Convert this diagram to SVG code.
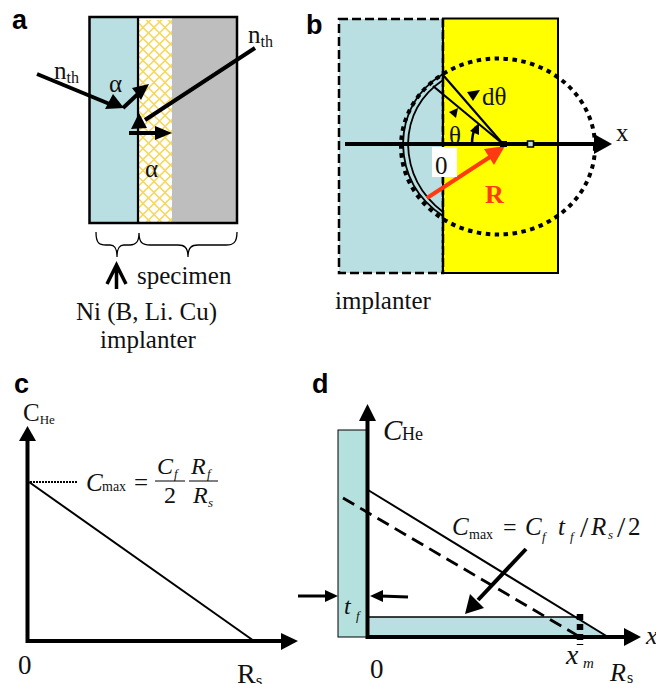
<svg xmlns="http://www.w3.org/2000/svg" width="656" height="684" viewBox="0 0 656 684">
<style>
text{font-family:"Liberation Serif","Times New Roman",serif;fill:#111}
.l{font-family:"Liberation Sans",Arial,sans-serif;font-weight:700;font-size:27px;fill:#000}
.t{font-size:25px}
.s{font-size:16px}
.i{font-style:italic}
.k{stroke:#000;fill:none;stroke-width:4}
.m{stroke:#000;fill:none;stroke-width:2.2}
.h{fill:#000}
</style>
<defs>
<pattern id="hatch" width="11" height="11" patternUnits="userSpaceOnUse">
<rect width="11" height="11" fill="#fff"/>
<path d="M0 5.5 5.5 0 11 5.5 5.5 11Z" fill="none" stroke="#f6d860" stroke-width="1.6"/>
</pattern>
</defs>
<g id="panel-a">
<text class="l" x="12" y="29">a</text>
<rect x="90" y="17" width="49" height="206" fill="#b9dfe2"/>
<rect x="139" y="20" width="33" height="203" fill="url(#hatch)"/>
<rect x="172" y="17" width="65" height="206" fill="#bebebe"/>
<rect x="89.500" y="17" width="147.500" height="206" fill="none" stroke="#000" stroke-width="2.500"/>
<line x1="138" y1="17" x2="138" y2="223" class="m"/>
<text class="t" x="54" y="79">n<tspan font-size="16" dy="4">th</tspan></text>
<text class="t" x="248" y="43">n<tspan font-size="16" dy="4">th</tspan></text>
<text class="t" x="109" y="92" font-size="27">α</text>
<text class="t" x="145" y="177" font-size="27">α</text>
<g id="a-connectors">
<line x1="37" y1="74" x2="112" y2="105" class="k"/>
<path class="h" d="M124 108 105 109 113 94Z"/>
<line x1="123" y1="108" x2="140" y2="92" class="k"/>
<path class="h" d="M149 84 141 100 132 88Z"/>
<line x1="255" y1="48" x2="145" y2="120" class="k"/>
<path class="h" d="M131 129 147 128 139 113Z"/>
<line x1="129" y1="133" x2="158" y2="133" class="k"/>
<path class="h" d="M172 133 155 126 155 140Z"/>
</g>
<path d="M96 232C96 243 99 245 106 245H110C114 245 117 247 117 257C117 247 120 245 124 245H130C135 245 139 243 139 233C139 243 143 245 150 245H178C184 245 188 247 188 257C188 247 192 245 198 245H226C233 245 237 243 237 232" fill="none" stroke="#000" stroke-width="1.300"/>
<path d="M116.500 289V265M107 284 116.500 265 126 284" fill="none" stroke="#000" stroke-width="3.500"/>
<text class="t" x="137" y="284">specimen</text>
<text class="t" x="76" y="320">Ni (B, Li. Cu)</text>
<text class="t" x="100" y="348">implanter</text>
</g>
<g id="panel-b">
<text class="l" x="306" y="34">b</text>
<rect x="339" y="19" width="104" height="254" fill="#b9dfe2" stroke="#000" stroke-width="2.500" stroke-dasharray="9 4"/>
<rect x="443" y="18.500" width="115" height="254.500" fill="#ff0" stroke="#000" stroke-width="2"/>
<line x1="443" y1="18" x2="443" y2="273" stroke="#000" stroke-width="2.500" stroke-dasharray="9 3"/>
<ellipse cx="498" cy="146.500" rx="97" ry="88" fill="none" stroke="#000" stroke-width="4" stroke-dasharray="4.500 4.500"/>
<path d="M443 74Q404 98 403 144Q404 190 443 216" fill="none" stroke="#000" stroke-width="1.800"/>
<path d="M443 80Q409 103 408 144Q409 186 443 212" fill="none" stroke="#000" stroke-width="1.800"/>
<g id="b-connectors">
<line x1="345" y1="144" x2="597" y2="144" class="k"/>
<path class="h" d="M612 144 594 134 594 154Z"/>
<line x1="443" y1="75" x2="503" y2="144" stroke="#000" stroke-width="2.200"/>
<line x1="433" y1="86" x2="503" y2="144" stroke="#000" stroke-width="2.200"/>
<path class="h" d="M467 92 480 90 473 101Z"/>
<path class="h" d="M449 112 458 108 456 118Z"/>
<path d="M472 144Q472 133 476 127" fill="none" stroke="#000" stroke-width="2.500"/>
<path class="h" d="M479 123 479 135 470 131Z"/>
<line x1="427" y1="198" x2="493" y2="155" stroke="#ff3a10" stroke-width="4"/>
<path class="h" style="fill:#ff3a10" d="M505 146 484 149 494 165Z"/>
</g>
<rect x="500" y="141" width="7" height="6" fill="#000"/>
<rect x="527.500" y="141" width="6" height="6" fill="#b9dfe2" stroke="#000" stroke-width="1.500"/>
<rect x="432" y="147" width="25" height="30" fill="#fff"/>
<text class="t" x="435" y="174" font-size="27">0</text>
<text class="t" x="482" y="105" font-size="27">dθ</text>
<text class="t" x="449" y="144" font-size="27">θ</text>
<text x="616" y="141" font-size="25">x</text>
<text x="485" y="203" font-size="26" font-weight="700" style="fill:#ff3a10">R</text>
<text class="t" x="335" y="309">implanter</text>
</g>
<g id="panel-c">
<text class="l" x="14" y="393">c</text>
<text class="t" x="23" y="421" font-size="24">C<tspan font-size="13" dy="3">He</tspan></text>
<g id="c-connectors">
<line x1="27.500" y1="643" x2="27.500" y2="435" class="k"/>
<path class="h" d="M27.500 426 19 441 36 441Z"/>
<line x1="26" y1="641" x2="285" y2="641" class="k"/>
<path class="h" d="M298 641 281 633 281 650Z"/>
<line x1="29" y1="482" x2="254" y2="641" stroke="#000" stroke-width="2"/>
<line x1="30" y1="482" x2="77" y2="482" stroke="#000" stroke-width="2" stroke-dasharray="2 1"/>
</g>
<text class="i" x="86" y="491" font-size="25">C</text>
<text x="102" y="491" font-size="14">max</text>
<text x="134" y="491" font-size="25">=</text>
<text class="i" x="157" y="474" font-size="24">C</text>
<text class="i" x="174" y="478" font-size="13">f</text>
<line x1="155" y1="481" x2="185" y2="481" stroke="#000" stroke-width="1"/>
<text x="164" y="503" font-size="24">2</text>
<text class="i" x="191" y="474" font-size="24">R</text>
<text class="i" x="207" y="478" font-size="13">f</text>
<line x1="189" y1="481" x2="218" y2="481" stroke="#000" stroke-width="1"/>
<text class="i" x="193" y="503" font-size="24">R</text>
<text class="i" x="208" y="507" font-size="13">s</text>
<text x="18" y="674" font-size="27">0</text>
<text x="237" y="683" font-size="28">R<tspan font-size="17" dy="3">s</tspan></text>
</g>
<g id="panel-d">
<text class="l" x="312" y="393">d</text>
<rect x="338" y="430" width="29" height="207" fill="#b4e0de" stroke="#000" stroke-width="1"/>
<path d="M368 617H578L608 637H368Z" fill="#b9dfe2"/>
<g id="d-connectors">
<line x1="368" y1="617" x2="579" y2="617" stroke="#000" stroke-width="1.500"/>
<line x1="367.500" y1="639" x2="367.500" y2="415" class="k"/>
<path class="h" d="M367.500 404 359 421 376 421Z"/>
<line x1="367" y1="637" x2="630" y2="637" class="k"/>
<path class="h" d="M641 637 624 628 624 646Z"/>
<line x1="368" y1="490" x2="608" y2="637" stroke="#000" stroke-width="2"/>
<line x1="343" y1="498" x2="580" y2="637" stroke="#000" stroke-width="2.800" stroke-dasharray="13 7"/>
<line x1="526" y1="549" x2="478" y2="600" class="k"/>
<path class="h" d="M465 614 484 608 470 594Z"/>
<line x1="298" y1="596" x2="328" y2="596" stroke="#000" stroke-width="3"/>
<path class="h" d="M338 596 325 590 325 602Z"/>
<line x1="408" y1="597" x2="380" y2="596" stroke="#000" stroke-width="3"/>
<path class="h" d="M370 596 383 590 383 602Z"/>
<line x1="580" y1="614" x2="580" y2="645" stroke="#000" stroke-width="6.500" stroke-dasharray="6 4"/>
</g>
<text class="i" x="383" y="440" font-size="29">C</text>
<text x="402" y="440" font-size="18">He</text>
<text class="i" x="452" y="535" font-size="25">C</text>
<text x="469" y="539" font-size="14">max</text>
<text x="503" y="535" font-size="24">=</text>
<text class="i" x="525" y="535" font-size="25">C</text>
<text class="i" x="542" y="541" font-size="13">f</text>
<text class="i" x="558" y="535" font-size="25">t</text>
<text class="i" x="570" y="541" font-size="13">f</text>
<text x="580" y="537" font-size="30">/</text>
<text class="i" x="591" y="535" font-size="25">R</text>
<text class="i" x="608" y="539" font-size="13">s</text>
<text x="617" y="537" font-size="30">/</text>
<text x="628" y="535" font-size="25">2</text>
<text class="i" x="344" y="614" font-size="24">t</text>
<text class="i" x="356" y="620" font-size="13">f</text>
<text x="370" y="678" font-size="27">0</text>
<text class="i" x="566" y="664" font-size="28">x</text>
<text class="i" x="583" y="668" font-size="15">m</text>
<text class="i" x="610" y="681" font-size="26">R</text>
<text x="627" y="683" font-size="16">s</text>
<text class="i" x="646" y="644" font-size="26">x</text>
</g>
</svg>
